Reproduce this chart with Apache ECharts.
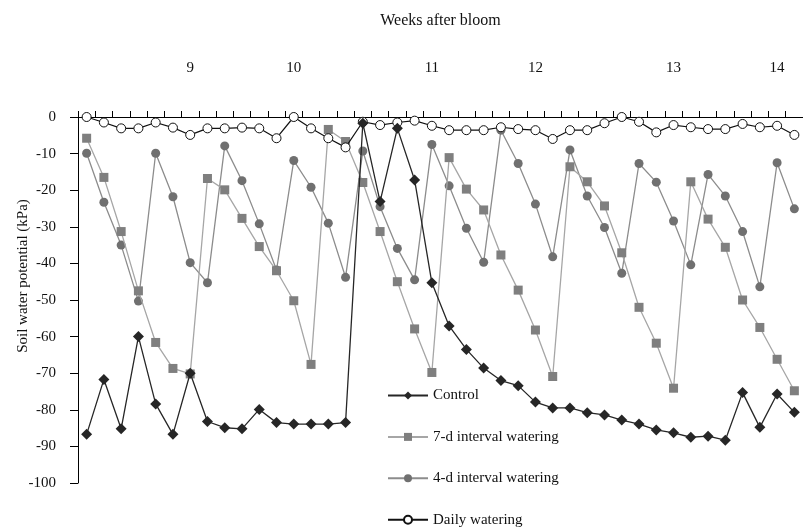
<!DOCTYPE html>
<html>
<head>
<meta charset="utf-8">
<script src="https://cdn.jsdelivr.net/npm/echarts@6/dist/echarts.min.js"></script>
<style>html,body{margin:0;padding:0;background:#fff;}#c{width:803px;height:530px;}</style>
</head>
<body>
<div id="c"></div>
<script>
// Week labels placed at sampling dates (one category per sampling date)
const weekLabels = ['', '', '', '', '', '', '9', '', '', '', '', '', '10', '', '', '', '', '', '', '', '11', '', '', '', '', '', '12', '', '', '', '', '', '', '', '13', '', '', '', '', '', '14', ''];
const yTicks = [0, -10, -20, -30, -40, -50, -60, -70, -80, -90, -100];

const control = [-86.7, -71.7, -85.2, -60.0, -78.4, -86.7, -70.0, -83.2, -84.9, -85.2, -79.9, -83.5, -83.9, -83.9, -83.9, -83.5, -1.7, -23.1, -3.1, -17.2, -45.3, -57.1, -63.5, -68.6, -72.0, -73.4, -77.9, -79.5, -79.5, -80.8, -81.4, -82.8, -83.9, -85.5, -86.3, -87.5, -87.2, -88.3, -75.3, -84.8, -75.7, -80.7];
const sevenDay = [-5.8, -16.5, -31.3, -47.5, -61.6, -68.7, -70.2, -16.8, -19.9, -27.7, -35.4, -42.0, -50.2, -67.6, -3.4, -6.7, -17.9, -31.3, -45.0, -57.9, -69.8, -11.1, -19.7, -25.4, -37.7, -47.3, -58.2, -70.9, -13.6, -17.7, -24.3, -37.1, -52.0, -61.8, -74.1, -17.7, -27.9, -35.6, -50.0, -57.5, -66.2, -74.8];
const fourDay = [-9.9, -23.3, -35.0, -50.3, -9.9, -21.8, -39.8, -45.3, -7.9, -17.4, -29.2, -41.8, -11.9, -19.2, -29.0, -43.8, -9.3, -24.5, -35.9, -44.5, -7.5, -18.8, -30.4, -39.7, -3.6, -12.7, -23.8, -38.2, -9.0, -21.6, -30.2, -42.7, -12.7, -17.8, -28.4, -40.4, -15.7, -21.6, -31.3, -46.4, -12.5, -25.1];
const daily = [0, -1.5, -3.1, -3.1, -1.5, -2.9, -4.9, -3.1, -3.1, -2.9, -3.1, -5.8, 0, -3.1, -5.8, -8.3, -1.3, -2.2, -1.5, -1.0, -2.4, -3.6, -3.6, -3.6, -2.8, -3.3, -3.6, -6.0, -3.6, -3.6, -1.7, 0, -1.3, -4.2, -2.2, -2.8, -3.3, -3.3, -1.9, -2.8, -2.4, -4.9];

const seriesNames = ['Control', '7-d interval watering', '4-d interval watering', 'Daily watering'];
const FONT = 'Liberation Serif';

const chart = echarts.init(document.getElementById('c'), null, {renderer: 'canvas'});
chart.setOption({
  animation: false,
  backgroundColor: '#ffffff',
  textStyle: {fontFamily: FONT},
  grid: {left: 78, top: 117, width: 731, height: 366, containLabel: false},
  legend: {
    orient: 'vertical',
    left: 387,
    top: 388,
    height: 142,
    padding: 0,
    itemWidth: 40,
    itemHeight: 10,
    itemGap: 26.4,
    data: seriesNames,
    textStyle: {fontFamily: FONT, fontSize: 15, lineHeight: 15, color: '#111'}
  },
  xAxis: {
    type: 'category',
    position: 'top',
    data: weekLabels,
    boundaryGap: true,
    name: 'Weeks after bloom',
    nameLocation: 'middle',
    nameGap: 88,
    nameTextStyle: {fontFamily: FONT, fontSize: 16, color: '#111'},
    axisLine: {onZero: false, lineStyle: {color: '#000', width: 1}},
    axisTick: {show: true, interval: 0, length: 6, inside: false, lineStyle: {color: '#000'}},
    axisLabel: {interval: 0, margin: 41, fontFamily: FONT, fontSize: 15, color: '#111'},
    splitLine: {show: false}
  },
  yAxis: {
    type: 'value',
    min: -100,
    max: 0,
    interval: 10,
    axisLine: {show: true, lineStyle: {color: '#000', width: 1}},
    axisTick: {show: true, length: 8, inside: false, lineStyle: {color: '#000'}},
    axisLabel: {margin: 22, fontFamily: FONT, fontSize: 15, color: '#111'},
    splitLine: {show: false}
  },
  graphic: [{
    type: 'text',
    x: 23,
    y: 276,
    rotation: Math.PI / 2,
    style: {
      text: 'Soil water potential (kPa)',
      fontFamily: FONT,
      fontSize: 15,
      fill: '#111',
      textAlign: 'center',
      textVerticalAlign: 'middle'
    }
  }],
  series: [
    {
      name: seriesNames[0], type: 'line', data: control, z: 5,
      symbol: 'diamond', symbolSize: 11,
      itemStyle: {color: '#262626'},
      lineStyle: {color: '#262626', width: 1.3}
    },
    {
      name: seriesNames[1], type: 'line', data: sevenDay, z: 3,
      symbol: 'rect', symbolSize: 9,
      itemStyle: {color: '#7f7f7f'},
      lineStyle: {color: '#a6a6a6', width: 1.3}
    },
    {
      name: seriesNames[2], type: 'line', data: fourDay, z: 2,
      symbol: 'circle', symbolSize: 9,
      itemStyle: {color: '#707070'},
      lineStyle: {color: '#8c8c8c', width: 1.3}
    },
    {
      name: seriesNames[3], type: 'line', data: daily, z: 4,
      symbol: 'circle', symbolSize: 9,
      itemStyle: {color: '#ffffff', borderColor: '#111', borderWidth: 1},
      lineStyle: {color: '#111', width: 1.2}
    }
  ]
});
</script>
</body>
</html>
